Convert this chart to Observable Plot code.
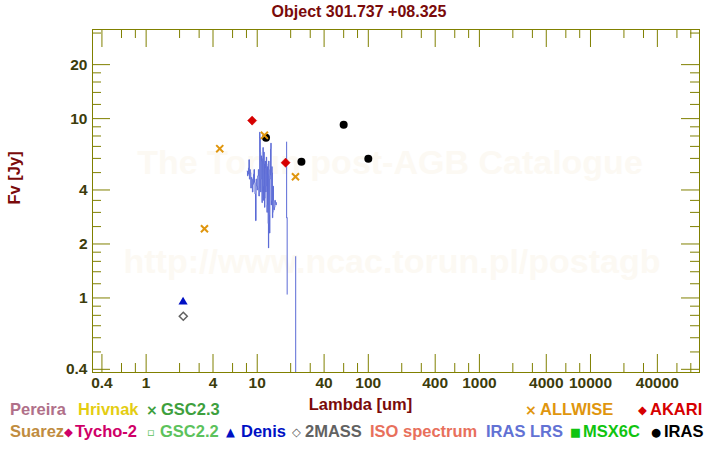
<!DOCTYPE html>
<html><head><meta charset="utf-8">
<script src="https://cdn.jsdelivr.net/npm/d3@7"></script>
<script src="https://cdn.jsdelivr.net/npm/@observablehq/plot@0.6"></script>
<style>
body{margin:0;background:#fff;}
#wrap{position:relative;width:720px;height:450px;font-family:"Liberation Sans",Arial,sans-serif;font-weight:bold;}
.lab{position:absolute;white-space:nowrap;font-size:16.5px;line-height:16px;}
.sym{position:absolute;white-space:nowrap;font-family:"DejaVu Sans",sans-serif;font-size:11.5px;line-height:16px;}
</style></head><body><div id="wrap"></div>
<script>
// ---- text ----
const title = "Object 301.737 +08.325";
const xLabel = "Lambda [um]";
const yLabel = "Fv [Jy]";
const watermark = ["The Torun post-AGB Catalogue", "http://www.ncac.torun.pl/postagb"];

// ---- axis ticks ----
const xMajor = [0.4, 1, 4, 10, 40, 100, 400, 1000, 4000, 10000, 40000];
const xMinor = [0.6, 0.8, 2, 3, 6, 8, 20, 30, 60, 80, 200, 300, 600, 800, 2000, 3000, 6000, 8000, 20000, 30000, 60000, 80000];
const yMajor = [0.4, 1, 2, 4, 10, 20];
const yMinor = [0.5, 0.6, 0.7, 0.8, 0.9, 1.2, 1.4, 1.6, 1.8, 2.5, 3, 3.5, 5, 6, 7, 8, 9, 12, 14, 16, 18, 30];

// ---- photometry ----
const irasLambda = [12, 25, 60, 100];
const irasFlux = [7.83, 5.75, 9.25, 5.98];
const akariLambda = [9, 18];
const akariFlux = [9.75, 5.68];
const wiseLambda = [3.35, 4.6, 11.6, 22.1];
const wiseFlux = [2.43, 6.8, 8.07, 4.74];
const denisLambda = [2.15];
const denisFlux = [0.95];
const twomassLambda = [2.16];
const twomassFlux = [0.79];

// ---- IRAS LRS spectrum ----
const lrsLambda = [8.12,8.22,8.3,8.38,8.45,8.55,8.62,8.7,8.8,8.9,9.0,9.1,9.2,9.3,9.4,9.5,9.6,9.7,9.85,9.95,10.05,10.18,10.3,10.4,10.48,10.55,10.62,10.7,10.78,10.85,10.92,11.0,11.08,11.15,11.22,11.3,11.38,11.45,11.52,11.6,11.68,11.75,11.82,11.9,11.98,12.05,12.12,12.2,12.28,12.35,12.42,12.5,12.58,12.65,12.72,12.8,12.88,12.95,13.05,13.15,13.22,13.3,13.4,13.5,13.58,13.65,13.75,13.85,13.95,14.05,14.2,14.35,14.5,14.65,14.8,14.9];
const lrsFlux = [5.1,4.8,4.9,5.3,5.9,4.6,5.2,5.0,4.1,4.7,4.6,3.9,4.3,4.9,5.2,4.4,3.8,2.7,4.6,4.2,4.0,4.8,5.2,3.7,4.1,8.4,7.8,6.5,3.9,4.6,6.2,5.8,3.4,3.9,6.0,6.9,3.5,4.2,6.5,5.6,3.2,3.6,5.8,5.3,3.9,4.2,6.1,5.6,3.0,3.3,5.4,4.9,2.6,1.9,5.8,5.2,2.9,2.3,4.6,4.8,6.8,7.3,3.3,3.5,5.4,5.0,2.8,3.0,4.2,3.5,3.1,3.2,3.5,3.4,3.3,3.4];
const lrsTailLambda = [18.4, 18.4, 18.6, 18.6, 22.2, 22.2];
const lrsTailFlux = [7.4, 2.8, 2.8, 1.05, 1.7, 0.05];
const lrsTailSeg = [1, 1, 2, 2, 3, 3];

// ---- legend ----
const legendRow1 = [["", "Pereira"], ["", "Hrivnak"], ["×", "GSC2.3"], ["×", "ALLWISE"], ["◆", "AKARI"]];
const legendRow2 = [["", "Suarez"], ["◆", "Tycho-2"], ["▫", "GSC2.2"], ["▲", "Denis"], ["◇", "2MASS"], ["", "ISO spectrum"], ["", "IRAS LRS"], ["■", "MSX6C"], ["●", "IRAS"]];

// ---- styles / layout ----
const legendColors = {Pereira:"#b07089", Hrivnak:"#e4cd12", "GSC2.3":"#3ea03e", ALLWISE:"#e0960e", AKARI:"#d60000",
  Suarez:"#c08c40", "Tycho-2":"#cf0068", "GSC2.2":"#5cc25c", Denis:"#0010c4", "2MASS":"#626262",
  "ISO spectrum":"#e8705c", "IRAS LRS":"#6272d4", MSX6C:"#10c410", IRAS:"#000000"};
const legendPos1 = [[null,10],[null,78],[146,161],[525,540],[638,650]];
const legendPos2 = [[null,10],[64,75],[147,160],[226,241],[292,305],[null,370],[null,486],[570,583],[651,664]];

const pts = (xs, ys) => xs.map((x, i) => ({lambda: x, flux: ys[i]}));
const lrs = pts(lrsLambda, lrsFlux);
const lrsTail = lrsTailLambda.map((x, i) => ({lambda: x, flux: lrsTailFlux[i], seg: lrsTailSeg[i]}));

const W = 720, H = 450, mL = 92, mR = 21, mT = 29, mB = 78;
const fw = W - mL - mR, fh = H - mT - mB;
const olive = "#808000", dark = "#7a0a0a", tickText = "#3c3c0c";

const chart = Plot.plot({
  width: W, height: H, marginLeft: mL, marginRight: mR, marginTop: mT, marginBottom: mB,
  style: {fontFamily: "'Liberation Sans', Arial, sans-serif", fontWeight: "bold", fontSize: "15px", color: tickText, background: "white"},
  x: {type: "log", domain: [0.329, 95800], axis: null},
  y: {type: "log", domain: [0.384, 31.4], axis: null},
  marks: [
    Plot.text([watermark[0]], {frameAnchor: "top", dx: -6, dy: 134, lineAnchor: "middle", fontSize: 34, fill: "#fcf9f3"}),
    Plot.text([watermark[1]], {frameAnchor: "top", dx: -4, dy: 233, lineAnchor: "middle", fontSize: 34, fill: "#fcf9f3"}),
    Plot.line(lrs, {x: "lambda", y: "flux", curve: "step", stroke: "#5b6bd6", strokeWidth: 1}),
    Plot.line(lrsTail, {x: "lambda", y: "flux", z: "seg", stroke: "#5b6bd6", strokeWidth: 1, clip: true}),
    Plot.dot(pts(irasLambda, irasFlux), {x: "lambda", y: "flux", r: 4, fill: "black"}),
    Plot.dot(pts(akariLambda, akariFlux), {x: "lambda", y: "flux", symbol: "diamond2", r: 4.1, fill: "#d60000", stroke: "#d60000", strokeWidth: 0.5}),
    Plot.dot(pts(wiseLambda, wiseFlux), {x: "lambda", y: "flux", symbol: "times", r: 3.3, stroke: "#e0960e", strokeWidth: 2}),
    Plot.dot(pts(denisLambda, denisFlux), {x: "lambda", y: "flux", symbol: "triangle", r: 3.4, fill: "#0010c4"}),
    Plot.dot(pts(twomassLambda, twomassFlux), {x: "lambda", y: "flux", symbol: "diamond2", r: 3.6, stroke: "#626262", strokeWidth: 1.5, fill: "white"}),
    Plot.frame({stroke: olive}),
    Plot.tickY(yMajor, {stroke: olive, insetRight: fw - 18}),
    Plot.tickY(yMinor, {stroke: olive, insetRight: fw - 9}),
    Plot.tickY(yMajor, {stroke: olive, insetLeft: fw - 18}),
    Plot.tickY(yMinor, {stroke: olive, insetLeft: fw - 9}),
    Plot.tickX(xMajor, {stroke: olive, insetBottom: fh - 18}),
    Plot.tickX(xMinor, {stroke: olive, insetBottom: fh - 9}),
    Plot.tickX(xMajor, {stroke: olive, insetTop: fh - 18}),
    Plot.tickX(xMinor, {stroke: olive, insetTop: fh - 9}),
    Plot.text(yMajor, {y: d => d, text: d => String(d), frameAnchor: "left", dx: -5, textAnchor: "end", lineAnchor: "middle", fontSize: 15.5, fill: tickText}),
    Plot.text(xMajor, {x: d => d, text: d => String(d), frameAnchor: "bottom", dy: 4, lineAnchor: "top", fontSize: 15.5, fill: tickText}),
    Plot.text([yLabel], {frameAnchor: "left", dx: -78, dy: 3.5, rotate: -90, lineAnchor: "middle", fontSize: 16.5, fill: dark}),
    Plot.text([xLabel], {frameAnchor: "bottom", dx: -35.5, dy: 32, lineAnchor: "middle", fontSize: 16.5, fill: dark})
  ]
});

const wrap = document.getElementById("wrap");
wrap.appendChild(chart);
chart.style.position = "absolute"; chart.style.left = "0"; chart.style.top = "0";

function addText(cls, txt, left, top, color, extra) {
  const s = document.createElement("div");
  s.className = cls; s.textContent = txt;
  s.style.left = left + "px"; s.style.top = top + "px"; s.style.color = color;
  if (extra) Object.assign(s.style, extra);
  wrap.appendChild(s);
  return s;
}
// title centered
addText("lab", title, 0, 3.5, dark, {width: "718px", textAlign: "center", fontSize: "16px"});

function addRow(row, pos, top) {
  row.forEach(([sym, name], i) => {
    const [sx, nx] = pos[i];
    const c = legendColors[name];
    if (sym) addText("sym", sym, sx, top + 1, c, sym === "×" ? {fontSize: "14px"} : null);
    addText("lab", name, nx, top, c);
  });
}
addRow(legendRow1, legendPos1, 400.5);
addRow(legendRow2, legendPos2, 422.5);
</script></body></html>
